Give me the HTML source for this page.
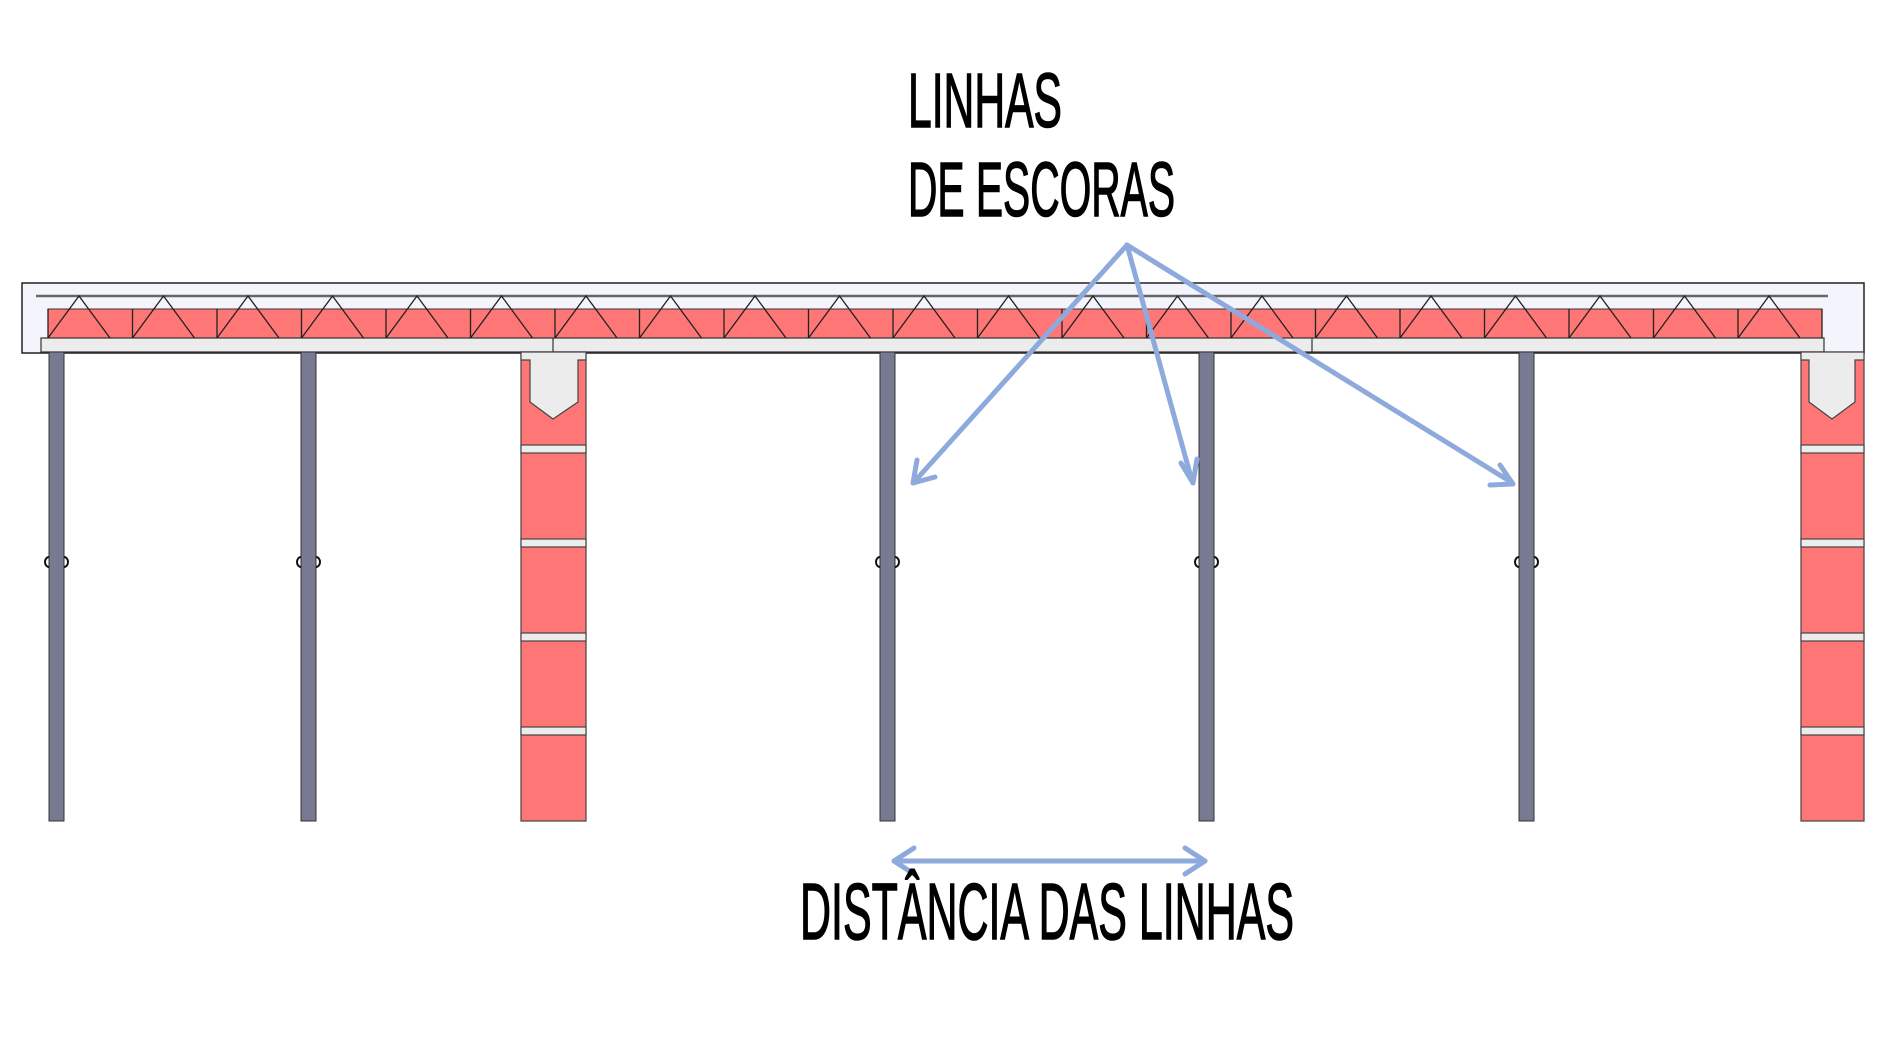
<!DOCTYPE html>
<html><head><meta charset="utf-8"><style>html,body{margin:0;padding:0;background:#fff}svg{display:block}</style></head>
<body>
<svg width="1890" height="1063" viewBox="0 0 1890 1063" xmlns="http://www.w3.org/2000/svg">
<rect width="1890" height="1063" fill="#fff"/>
<rect x="22" y="283" width="1842" height="70" fill="#f4f5fc" stroke="#222" stroke-width="1.5"/>
<line x1="36" y1="296" x2="1828" y2="296" stroke="#666" stroke-width="2.5"/>
<rect x="48" y="309" width="1774" height="29" fill="#ff7676" stroke="#333" stroke-width="1"/>
<rect x="41" y="338" width="1783" height="14" fill="#ececec" stroke="#333" stroke-width="1.2"/>
<line x1="553" y1="338" x2="553" y2="352" stroke="#333" stroke-width="1.2"/>
<line x1="1312" y1="338" x2="1312" y2="352" stroke="#333" stroke-width="1.2"/>
<g fill="#777a90" stroke="#333" stroke-width="1">
<rect x="49" y="352" width="15" height="469"/>
<rect x="301" y="352" width="15" height="469"/>
<rect x="880" y="352" width="15" height="469"/>
<rect x="1199" y="352" width="15" height="469"/>
<rect x="1519" y="352" width="15" height="469"/>
</g>
<g fill="none" stroke="#111" stroke-width="2">
<path d="M49 557 a4 5 0 0 0 0 10 M64 557 a4 5 0 0 1 0 10"/>
<path d="M301 557 a4 5 0 0 0 0 10 M316 557 a4 5 0 0 1 0 10"/>
<path d="M880 557 a4 5 0 0 0 0 10 M895 557 a4 5 0 0 1 0 10"/>
<path d="M1199 557 a4 5 0 0 0 0 10 M1214 557 a4 5 0 0 1 0 10"/>
<path d="M1519 557 a4 5 0 0 0 0 10 M1534 557 a4 5 0 0 1 0 10"/>
</g>
<g stroke="#444" stroke-width="1.2">
<rect x="521" y="352" width="65" height="469" fill="#ff7676"/>
<path d="M521 352 H586 V360 H578 V402 L553 419 L530 402 V360 H521 Z" fill="#ececec"/>
<rect x="521" y="445" width="65" height="8" fill="#ececec"/>
<rect x="521" y="539" width="65" height="8" fill="#ececec"/>
<rect x="521" y="633" width="65" height="8" fill="#ececec"/>
<rect x="521" y="727" width="65" height="8" fill="#ececec"/>
<rect x="1801" y="352" width="63" height="469" fill="#ff7676"/>
<path d="M1801 352 H1864 V360 H1855 V402 L1832 419 L1809 402 V360 H1801 Z" fill="#ececec"/>
<rect x="1801" y="445" width="63" height="8" fill="#ececec"/>
<rect x="1801" y="539" width="63" height="8" fill="#ececec"/>
<rect x="1801" y="633" width="63" height="8" fill="#ececec"/>
<rect x="1801" y="727" width="63" height="8" fill="#ececec"/>
</g>
<g stroke="#222" stroke-width="1.3" fill="none">
<path d="
M48 309V338 M48 338L79 296L110 338
M132.5 309V338 M132.5 338L163.5 296L194.5 338
M217 309V338 M217 338L248 296L279 338
M301.5 309V338 M301.5 338L332.5 296L363.5 338
M386 309V338 M386 338L417 296L448 338
M470.5 309V338 M470.5 338L501.5 296L532.5 338
M555 309V338 M555 338L586 296L617 338
M639.5 309V338 M639.5 338L670.5 296L701.5 338
M724 309V338 M724 338L755 296L786 338
M808.5 309V338 M808.5 338L839.5 296L870.5 338
M893 309V338 M893 338L924 296L955 338
M977.5 309V338 M977.5 338L1008.5 296L1039.5 338
M1062 309V338 M1062 338L1093 296L1124 338
M1146.5 309V338 M1146.5 338L1177.5 296L1208.5 338
M1231 309V338 M1231 338L1262 296L1293 338
M1315.5 309V338 M1315.5 338L1346.5 296L1377.5 338
M1400 309V338 M1400 338L1431 296L1462 338
M1484.5 309V338 M1484.5 338L1515.5 296L1546.5 338
M1569 309V338 M1569 338L1600 296L1631 338
M1653.5 309V338 M1653.5 338L1684.5 296L1715.5 338
M1738 309V338 M1738 338L1769 296L1800 338
M1822 309V338"/>
</g>
<g stroke="#8eaadc" stroke-width="5" fill="none" stroke-linecap="round" stroke-linejoin="round">
<line x1="1127" y1="245" x2="915" y2="481"/>
<path d="M917 460 L913 483 L935 477"/>
<line x1="1127" y1="245" x2="1192" y2="481"/>
<path d="M1181 463 L1193 483 L1197 459"/>
<line x1="1127" y1="245" x2="1511" y2="482"/>
<path d="M1500 465 L1513 484 L1490 485"/>
<line x1="894" y1="861" x2="1205" y2="861"/>
<path d="M914 848 L894 861 L914 874 M1185 848 L1205 861 L1185 874"/>
</g>
<g font-family="Liberation Sans, sans-serif" font-size="77" fill="#000" stroke="#000" stroke-width="1.5">
<text x="908" y="127" textLength="154" lengthAdjust="spacingAndGlyphs">LINHAS</text>
<text x="908" y="216" textLength="267" lengthAdjust="spacingAndGlyphs">DE ESCORAS</text>
<text x="800" y="939" font-size="80" textLength="494" lengthAdjust="spacingAndGlyphs">DISTÂNCIA DAS LINHAS</text>
</g>
</svg>
</body></html>
